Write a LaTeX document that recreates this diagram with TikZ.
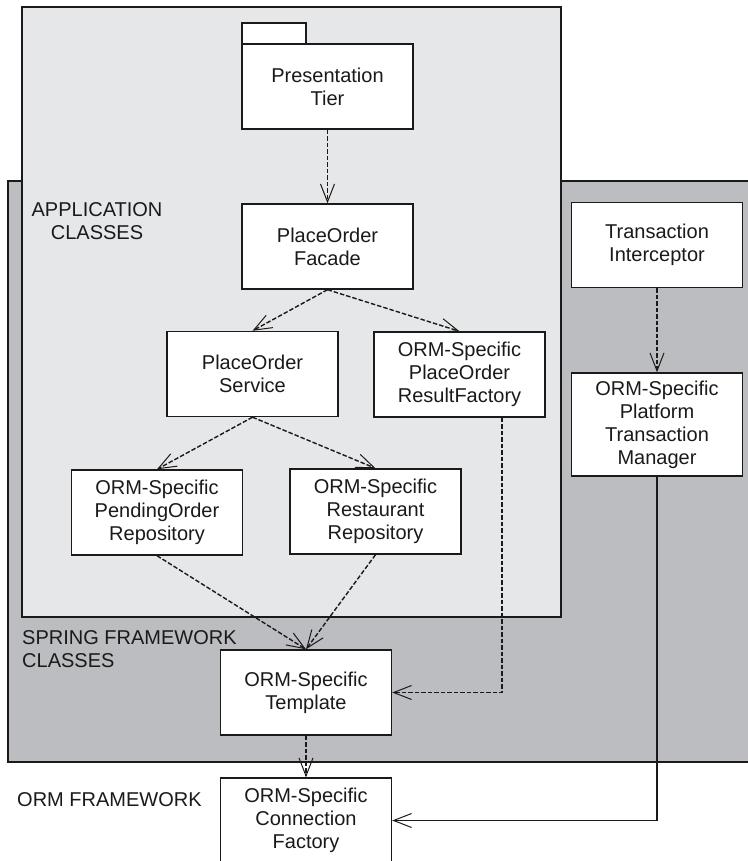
\documentclass[tikz,border=0pt]{standalone}
\usepackage{fontspec}
\setmainfont{Liberation Sans}
\usetikzlibrary{arrows.meta}
\definecolor{appgrey}{HTML}{E6E7E9}
\definecolor{springgrey}{HTML}{BCBDC0}
\definecolor{ink}{HTML}{1A1A1A}
\begin{document}
\begin{tikzpicture}[x=1pt,y=-1pt,
  every node/.style={font=\fontsize{20}{23}\selectfont},
  classbox/.style={draw=ink, fill=white, line width=1.4pt, align=center,
    minimum width=171pt, minimum height=85pt, inner sep=0pt, text=ink},
  region/.style={draw=ink, line width=1.1pt},
  regionlabel/.style={inner sep=0pt, text=ink},
  dep/.style={draw=ink, line width=1.4pt, dash pattern=on 4.5pt off 2pt,
    -{Straight Barb[length=18pt,width=14pt,line width=1pt]}},
  assoc/.style={draw=ink, line width=1.1pt,
    -{Straight Barb[length=18pt,width=14pt,line width=1pt]}}]
\useasboundingbox (0,0) rectangle (747,861);
\fill[white] (0,0) rectangle (747,861);

% framework regions
\filldraw[region, fill=springgrey] (8,181) rectangle (760,762);
\filldraw[region, fill=appgrey] (22,7) rectangle (561,617);

% region captions
\node[regionlabel, align=center] (applbl) at (97,221) {APPLICATION\\CLASSES};
\node[regionlabel, align=left, anchor=west] (springlbl) at (22,649) {SPRING FRAMEWORK\\CLASSES};
\node[regionlabel, anchor=west] (ormlbl) at (17,800) {ORM FRAMEWORK};

% presentation tier package
\filldraw[draw=ink, fill=white, line width=1.4pt] (242,23) rectangle (306,44);
\node[classbox] (pres) at (327.5,86.5) {Presentation\\Tier};

% application classes
\node[classbox] (facade) at (327.5,246.5) {PlaceOrder\\Facade};
\node[classbox] (svc) at (252.5,374) {PlaceOrder\\Service};
\node[classbox] (rf) at (459.5,374.5) {ORM-Specific\\PlaceOrder\\ResultFactory};
\node[classbox] (pend) at (157,512.5) {ORM-Specific\\PendingOrder\\Repository};
\node[classbox] (rest) at (375.5,511.5) {ORM-Specific\\Restaurant\\Repository};

% spring framework classes
\node[classbox] (tpl) at (306,692.5) {ORM-Specific\\Template};
\node[classbox] (txi) at (657,245) {Transaction\\Interceptor};
\node[classbox, minimum height=103pt] (txm) at (657,424.5) {ORM-Specific\\Platform\\Transaction\\Manager};

% orm framework
\node[classbox] (cf) at (306,820.5) {ORM-Specific\\Connection\\Factory};

% dependencies
\draw[dep] (pres.south) -- (facade.north);
\draw[dep] (facade.south) -- (svc.north);
\draw[dep] (facade.south) -- (rf.north);
\draw[dep] (svc.south) -- (pend.north);
\draw[dep] (svc.south) -- (rest.north);
\draw[dep] (pend.south) -- (tpl.north);
\draw[dep] (rest.south) -- (tpl.north);
\draw[dep] ([xshift=42.5pt]rf.south) |- (tpl.east);
\draw[dep] (tpl.south) -- (cf.north);
\draw[dep] (txi.south) -- (txm.north);
\draw[assoc] (txm.south) |- (cf.east);
\end{tikzpicture}
\end{document}
